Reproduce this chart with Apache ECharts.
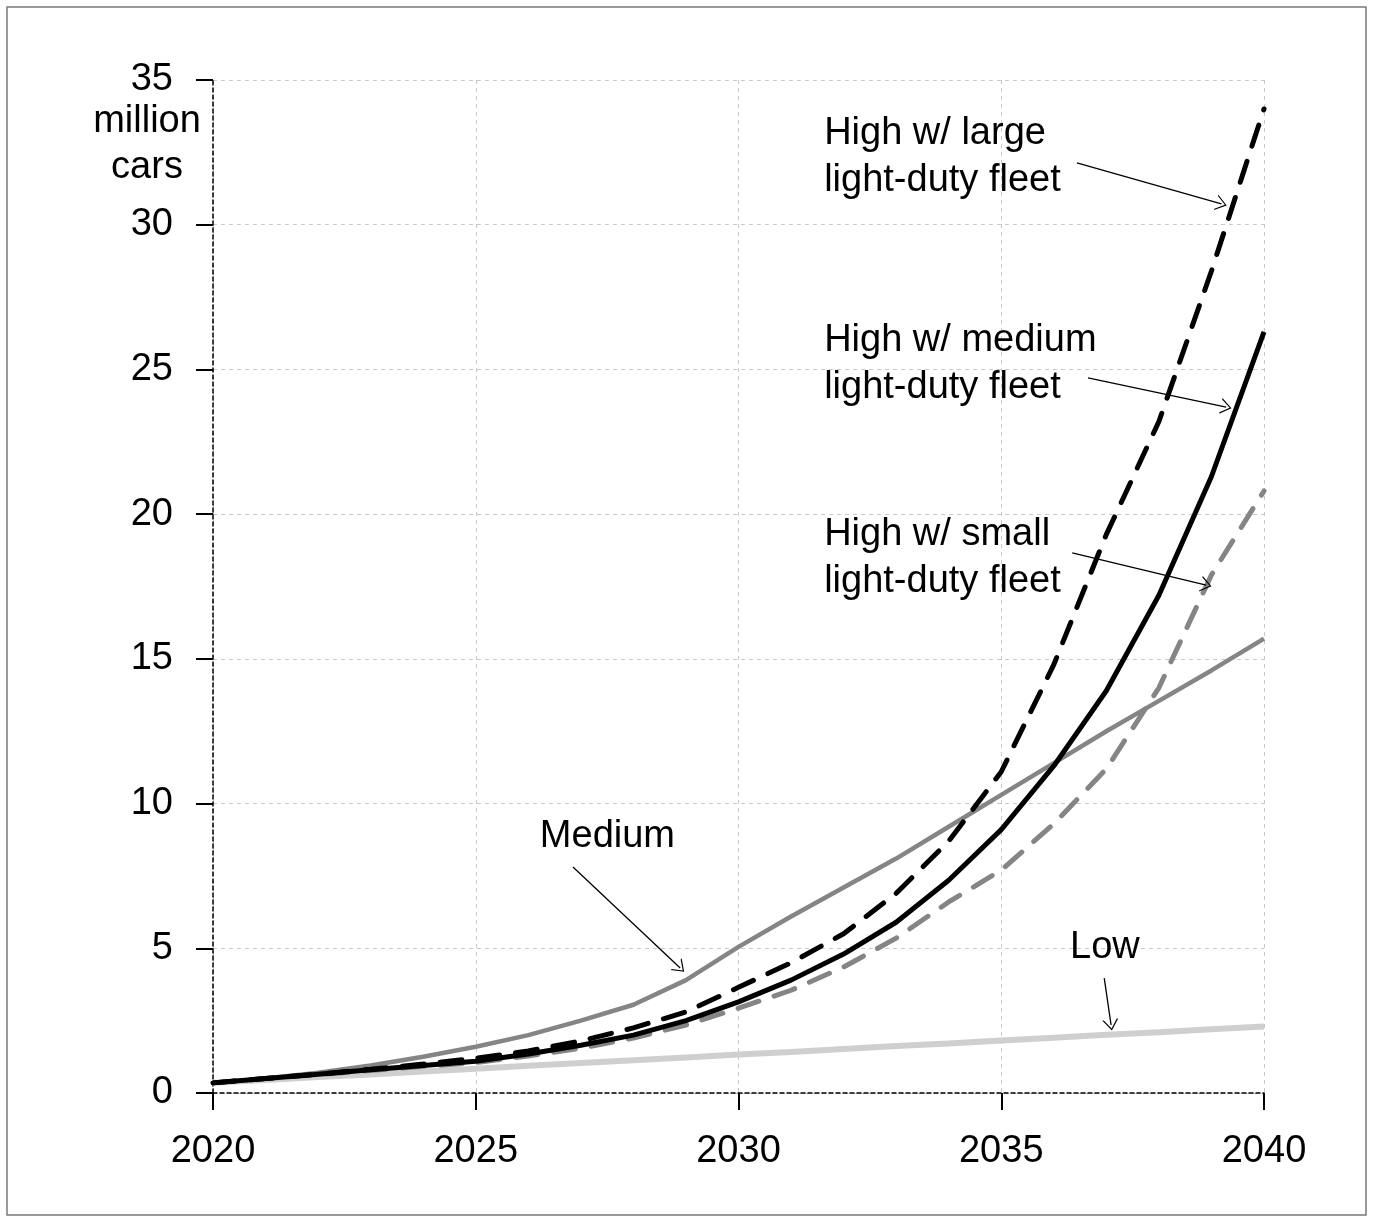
<!DOCTYPE html>
<html>
<head>
<meta charset="utf-8">
<script src="https://cdn.jsdelivr.net/npm/echarts@6/dist/echarts.min.js"></script>
<style>html,body{margin:0;padding:0;background:#fff;}#c{width:1374px;height:1222px;}</style>
</head>
<body>
<div id="c"></div>
<script>
const years = [2020,2021,2022,2023,2024,2025,2026,2027,2028,2029,2030,2031,2032,2033,2034,2035,2036,2037,2038,2039,2040];
const lowSeries      = [0.35,0.45,0.55,0.64,0.74,0.84,0.94,1.04,1.13,1.23,1.33,1.42,1.52,1.62,1.71,1.81,1.91,2.01,2.10,2.20,2.30];
const mediumSeries   = [0.35,0.50,0.70,0.95,1.25,1.60,2.00,2.50,3.05,3.90,5.05,6.10,7.10,8.10,9.20,10.30,11.40,12.50,13.55,14.60,15.70];
const highLarge      = [0.35,0.50,0.65,0.82,1.00,1.20,1.45,1.80,2.25,2.80,3.65,4.50,5.50,6.90,8.70,11.10,14.80,19.30,23.20,28.40,34.00];
const highMedium     = [0.35,0.50,0.65,0.80,0.95,1.10,1.35,1.65,2.00,2.50,3.15,3.90,4.80,5.90,7.35,9.10,11.30,13.90,17.20,21.30,26.30];
const highSmall      = [0.35,0.50,0.63,0.78,0.92,1.05,1.28,1.55,1.90,2.35,2.93,3.55,4.35,5.35,6.60,7.70,9.30,11.20,14.00,17.90,20.80];
const xTicks = [2020,2025,2030,2035,2040];
const yTicks = [0,5,10,15,20,25,30,35];
const labels = [
  {text:'High w/ large\nlight-duty fleet', at:[2031.63, 33.97]},
  {text:'High w/ medium\nlight-duty fleet', at:[2031.63, 26.81]},
  {text:'High w/ small\nlight-duty fleet', at:[2031.63, 20.11]},
  {text:'Medium', at:[2026.22, 9.67]},
  {text:'Low', at:[2036.31, 5.84]}
];
const arrows = [
  [[2036.44,32.14],[2039.19,30.72]],
  [[2036.65,24.71],[2039.28,23.70]],
  [[2036.35,18.66],[2038.90,17.55]],
  [[2026.85,7.81],[2028.89,4.32]],
  [[2036.96,3.97],[2037.09,2.35]]
];

const chart = echarts.init(document.getElementById('c'), null, {renderer:'canvas'});
const FONT = 'Liberation Sans, Arial, sans-serif';
const FS = 38;
function pts(arr){ return years.map((y,i)=>[y,arr[i]]); }
const openArrow = 'path://M0,20 L10,0 L20,20 L18.2,20 L10,3.6 L1.8,20 Z';

const series = [
  {name:'Low', type:'line', data:pts(lowSeries), symbol:'none', lineStyle:{color:'#cfcfcf', width:6}, z:2},
  {name:'Medium', type:'line', data:pts(mediumSeries), symbol:'none', lineStyle:{color:'#858585', width:4.5}, z:3},
  {name:'High small', type:'line', data:pts(highSmall), symbol:'none', lineStyle:{color:'#858585', width:5, type:[22,16], cap:'round'}, z:4},
  {name:'High medium', type:'line', data:pts(highMedium), symbol:'none', lineStyle:{color:'#000', width:5}, z:5},
  {name:'High large', type:'line', data:pts(highLarge), symbol:'none', lineStyle:{color:'#000', width:5, type:[22,16], cap:'round'}, z:6},
  {name:'arrows', type:'line', data:[], symbol:'none', silent:true,
   markLine:{silent:true, symbol:['none',openArrow], symbolSize:[16,11], symbolOffset:[0,0], animation:false,
     lineStyle:{color:'#000', width:1.3, type:'solid'}, label:{show:false},
     data: arrows.map(a=>[{coord:a[0]},{coord:a[1]}])}, z:7}
];

chart.setOption({
  animation:false,
  backgroundColor:'#fff',
  grid:{left:213, right:110, top:80, bottom:129, containLabel:false},
  xAxis:{type:'value', min:2020, max:2040, interval:5,
    axisLine:{show:true, lineStyle:{color:'#000', width:1.5, type:[4,3]}},
    axisTick:{show:true, length:17, lineStyle:{color:'#000', width:2}},
    axisLabel:{color:'#000', fontSize:FS, fontFamily:FONT, margin:40, formatter:v=>String(v)},
    splitLine:{show:true, lineStyle:{color:'#c8c8c8', width:1, type:[4,4]}}},
  yAxis:{type:'value', min:0, max:35, interval:5,
    axisLine:{show:true, onZero:false, lineStyle:{color:'#000', width:1.5, type:[4,3]}},
    axisTick:{show:true, length:17, lineStyle:{color:'#000', width:2}},
    axisLabel:{color:'#000', fontSize:FS, fontFamily:FONT, margin:40},
    splitLine:{show:true, lineStyle:{color:'#c8c8c8', width:1, type:[4,4]}}},
  series:series
});

const g = [
  {type:'rect', shape:{x:7,y:7,width:1359,height:1208}, style:{fill:'none', stroke:'#7a7a7a', lineWidth:1.5}, z:-1},
  {type:'text', style:{text:'million\ncars', x:147, y:99, align:'center', verticalAlign:'top', fontSize:FS, lineHeight:46, fontFamily:FONT, fill:'#000'}}
];
labels.forEach(l=>{
  const p = chart.convertToPixel({gridIndex:0}, l.at);
  g.push({type:'text', style:{text:l.text, x:p[0], y:p[1], align:'left', verticalAlign:'top', fontSize:FS, lineHeight:47, fontFamily:FONT, fill:'#000'}, z:10});
});
chart.setOption({graphic:g});
</script>
</body>
</html>
